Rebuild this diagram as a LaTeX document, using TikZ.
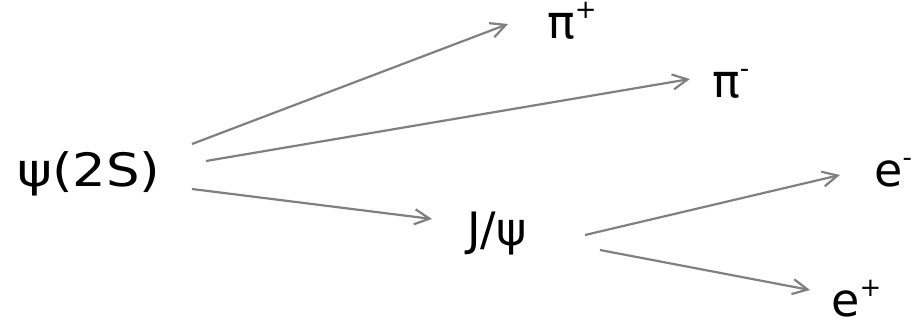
\documentclass[tikz,border=0pt]{standalone}
\usepackage{fontspec}
\setmainfont{DejaVu Sans}
\newfontfamily\widefont{DejaVu Sans}[FakeStretch=1.15]
\usetikzlibrary{arrows.meta}
\newcommand{\supr}[1]{\raisebox{0.42em}{\fontsize{26}{28}\selectfont #1}}
\begin{document}
\begin{tikzpicture}[x=1pt,y=-1pt,
  lbl/.style={anchor=base west,inner sep=0pt,font=\fontsize{46}{50}\selectfont},
  conn/.style={draw={rgb,255:red,128;green,128;blue,128},line width=2.2pt,
    -{Straight Barb[length=15pt,width=15pt,line width=2.2pt]}}]
\useasboundingbox (0,0) rectangle (917,324);
\node[lbl] (psi) at (17,186) {\widefont ψ(2S)};
\node[lbl] (pip) at (547,38) {π\supr{+}};
\node[lbl] (pim) at (712,97) {π\supr{-}};
\node[lbl] (jpsi) at (467,245) {J/ψ};
\node[lbl] (em) at (874,186) {e\supr{-}};
\node[lbl] (ep) at (831,316) {e\supr{+}};
\coordinate (s1) at (192,144);
\coordinate (t1) at (508,24);
\coordinate (s2) at (206,161);
\coordinate (t2) at (690,79);
\coordinate (s3) at (192,189);
\coordinate (t3) at (432,219);
\coordinate (s4) at (585,235);
\coordinate (t4) at (840,175);
\coordinate (s5) at (600,250);
\coordinate (t5) at (810,290);
\draw[conn] (s1) -- (t1);
\draw[conn] (s2) -- (t2);
\draw[conn] (s3) -- (t3);
\draw[conn] (s4) -- (t4);
\draw[conn] (s5) -- (t5);
\end{tikzpicture}
\end{document}
